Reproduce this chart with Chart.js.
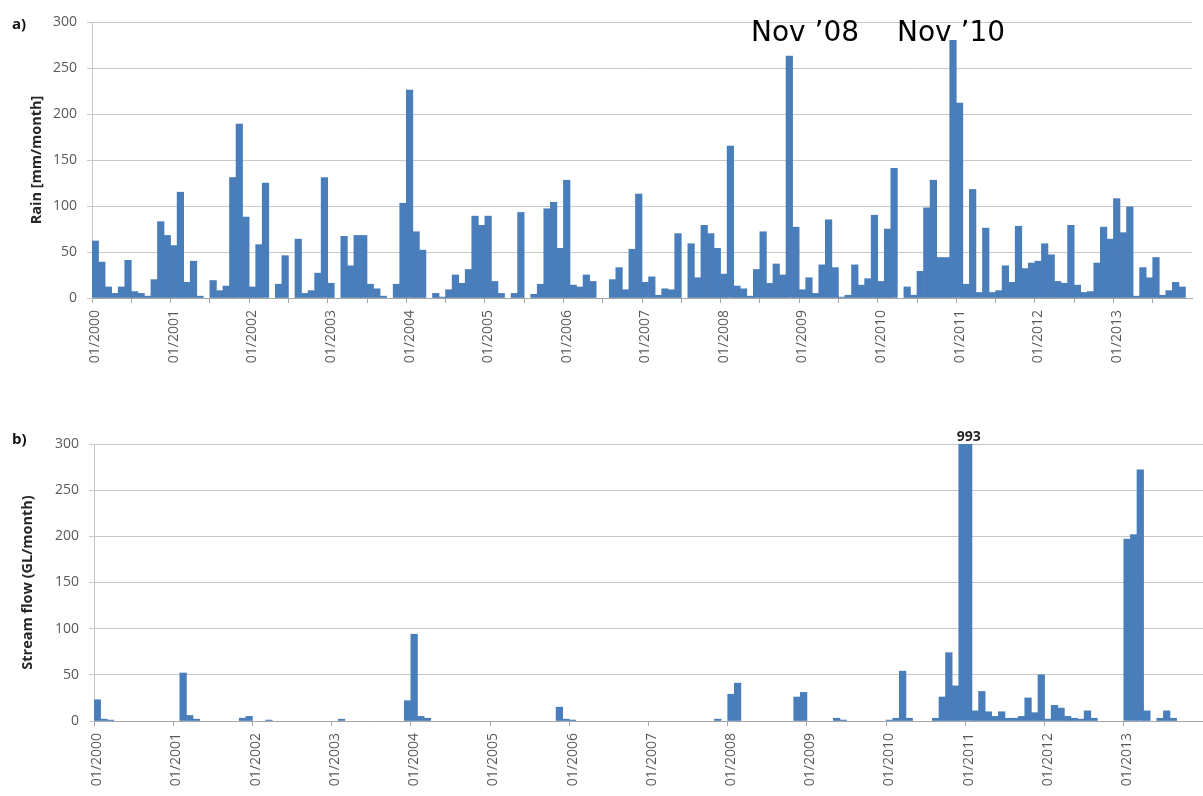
<!DOCTYPE html>
<html>
<head>
<meta charset="utf-8">
<script src="https://cdn.jsdelivr.net/npm/chart.js@4.4.1/dist/chart.umd.min.js"></script>
<style>
    html, body { margin: 0; padding: 0; background: #fff; }
    .panel { position: absolute; left: 0; width: 1203px; }
    #pa { top: 0; height: 410px; }
    #pb { top: 410px; height: 386px; }
</style>
</head>
<body>
<div class="panel" id="pa"><canvas id="rain" width="1203" height="410"></canvas></div>
<div class="panel" id="pb"><canvas id="flow" width="1203" height="386"></canvas></div>
<script>
// categories: one per month, 01/2000 .. 12/2013
const years = [2000, 2001, 2002, 2003, 2004, 2005, 2006, 2007, 2008, 2009, 2010, 2011, 2012, 2013];
const months = [];
years.forEach(y => {
    for (let m = 1; m <= 12; m++) months.push(String(m).padStart(2, '0') + '/' + y);
});

// a) rain, mm/month (Jan..Dec per row)
const rain = [
    62, 39, 12, 5, 12, 41, 7, 5, 2, 20, 83, 68,        // 2000
    57, 115, 17, 40, 2, 0, 19, 8, 13, 131, 189, 88,    // 2001
    12, 58, 125, 0, 15, 46, 0, 64, 5, 8, 27, 131,      // 2002
    16, 0, 67, 35, 68, 68, 15, 10, 2, 0, 15, 103,      // 2003
    226, 72, 52, 0, 5, 1, 9, 25, 16, 31, 89, 79,       // 2004
    89, 18, 5, 0, 5, 93, 0, 4, 15, 97, 104, 54,        // 2005
    128, 14, 12, 25, 18, 0, 0, 20, 33, 9, 53, 113,     // 2006
    17, 23, 3, 10, 9, 70, 0, 59, 22, 79, 70, 54,       // 2007
    26, 165, 13, 10, 2, 31, 72, 16, 37, 25, 263, 77,   // 2008
    9, 22, 5, 36, 85, 33, 1, 3, 36, 14, 21, 90,        // 2009
    18, 75, 141, 0, 12, 3, 29, 98, 128, 44, 44, 280,   // 2010
    212, 15, 118, 6, 76, 6, 8, 35, 17, 78, 32, 38,     // 2011
    40, 59, 47, 18, 16, 79, 14, 6, 7, 38, 77, 64,      // 2012
    108, 71, 99, 2, 33, 22, 44, 3, 8, 17, 12, 0        // 2013
];

// b) stream flow, GL/month (Jan..Dec per row)
const flow = [
    23, 2, 1, 0, 0, 0, 0, 0, 0, 0, 0, 0,               // 2000
    0, 52, 6, 2, 0, 0, 0, 0, 0, 0, 3, 5,               // 2001
    0, 0, 1, 0, 0, 0, 0, 0, 0, 0, 0, 0,                // 2002
    0, 2, 0, 0, 0, 0, 0, 0, 0, 0, 0, 22,               // 2003
    94, 5, 3, 0, 0, 0, 0, 0, 0, 0, 0, 0,               // 2004
    0, 0, 0, 0, 0, 0, 0, 0, 0, 0, 15, 2,               // 2005
    1, 0, 0, 0, 0, 0, 0, 0, 0, 0, 0, 0,                // 2006
    0, 0, 0, 0, 0, 0, 0, 0, 0, 0, 2, 0,                // 2007
    29, 41, 0, 0, 0, 0, 0, 0, 0, 0, 26, 31,            // 2008
    0, 0, 0, 0, 3, 1, 0, 0, 0, 0, 0, 0,                // 2009
    1, 3, 54, 3, 0, 0, 0, 3, 26, 74, 38, 400,          // 2010
    993, 11, 32, 10, 5, 10, 3, 3, 5, 25, 9, 50,        // 2011
    2, 17, 14, 5, 3, 2, 11, 3, 0, 0, 0, 0,             // 2012
    197, 202, 272, 11, 0, 3, 11, 3, 0, 0, 0, 0         // 2013
];

const yTicks = [0, 50, 100, 150, 200, 250, 300];
const notes = ['Nov ’08', 'Nov ’10'];

Chart.defaults.font.family = '"Open Sans", sans-serif';
Chart.defaults.font.size = 14;
Chart.defaults.color = '#595959';

const barColor = '#4a7ebb';
const gridColor = '#c8c8c8';

// panel letter, annotations and the value label of the clipped peak
const captions = {
    id: 'captions',
    afterDraw(chart, args, opts) {
        const ctx = chart.ctx;
        ctx.save();
        ctx.fillStyle = '#111';
        ctx.font = 'bold 15px "Open Sans"';
        ctx.textAlign = 'left';
        ctx.fillText(opts.letter, 12, opts.letterY);
        if (opts.notes) {
            ctx.font = '28px "DejaVu Sans"';
            ctx.fillStyle = '#000';
            ctx.fillText(opts.notes[0], 751, 41);
            ctx.fillText(opts.notes[1], 897, 41);
        }
        if (opts.peakLabel) {
            const data = chart.data.datasets[0].data;
            const max = Math.max(...data);
            const i = data.indexOf(max);
            const x = chart.scales.x.getPixelForValue(i);
            ctx.font = 'bold 14px "Open Sans"';
            ctx.fillStyle = '#262626';
            ctx.textAlign = 'center';
            ctx.fillText(String(max), x, chart.chartArea.top - 3);
        }
        ctx.restore();
    }
};

function makeChart(id, values, cfg) {
    return new Chart(document.getElementById(id), {
        type: 'bar',
        data: {
            labels: months,
            datasets: [{
                data: values,
                // empty months get no sliver on the axis
                backgroundColor: ctx => ctx.raw > 0 ? barColor : 'rgba(0,0,0,0)',
                borderWidth: 0,
                barPercentage: 1,
                categoryPercentage: 1
            }]
        },
        options: {
            responsive: false,
            animation: false,
            layout: { padding: { left: 0, right: cfg.padRight, top: cfg.padTop, bottom: 0 } },
            plugins: {
                legend: { display: false },
                tooltip: { enabled: false },
                captions: cfg.captions
            },
            scales: {
                x: {
                    grid: {
                        drawOnChartArea: false,
                        drawTicks: true,
                        tickLength: 5,
                        color: ctx => ctx.index % cfg.tickEvery === 0 ? '#a6a6a6' : 'rgba(0,0,0,0)'
                    },
                    border: { display: true, color: '#a6a6a6' },
                    ticks: {
                        autoSkip: false,
                        minRotation: 90,
                        maxRotation: 90,
                        padding: 7,
                        callback: (v, i) => i % 12 === 0 ? months[i] : ''
                    },
                    afterFit: s => { s.height = cfg.xHeight; s.paddingLeft = 0; s.paddingRight = 0; }
                },
                y: {
                    min: yTicks[0],
                    max: yTicks[yTicks.length - 1],
                    ticks: { stepSize: yTicks[1] - yTicks[0], padding: 10 },
                    grid: { color: gridColor, tickLength: 5 },
                    border: { display: true, color: gridColor },
                    title: {
                        display: true,
                        text: cfg.title,
                        color: '#262626',
                        font: { weight: 'bold', size: 14.5 },
                        padding: { top: cfg.titlePad, bottom: 0 }
                    },
                    afterFit: s => { s.width = cfg.yWidth; }
                }
            }
        },
        plugins: [captions]
    });
}

makeChart('rain', rain, {
    title: 'Rain [mm/month]',
    padTop: 22, padRight: 11, xHeight: 112, yWidth: 92, titlePad: 28, tickEvery: 6,
    captions: { letter: 'a)', letterY: 29, notes: notes }
});

makeChart('flow', flow, {
    title: 'Stream flow (GL/month)',
    padTop: 34, padRight: 0, xHeight: 75, yWidth: 94, titlePad: 19, tickEvery: 12,
    captions: { letter: 'b)', letterY: 34, peakLabel: true }
});
</script>
</body>
</html>
